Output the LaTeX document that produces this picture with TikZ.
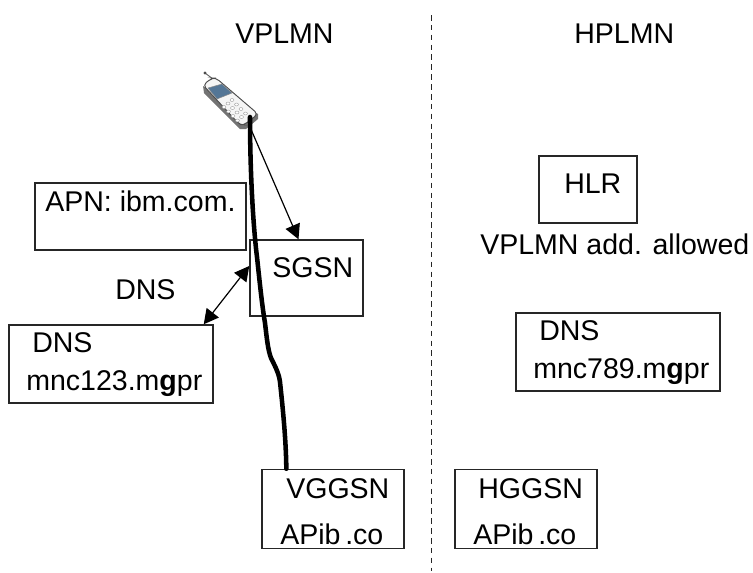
\documentclass[tikz,border=0pt]{standalone}
\usepackage{fontspec}
\setmainfont{Liberation Sans}
\usetikzlibrary{arrows.meta,calc}
\tikzset{
  x=0.75pt,y=-0.75pt,
  box/.style={draw=black!85,line width=1.1pt,rectangle,inner sep=0pt,minimum width=#1},
  lbl/.style={anchor=base west,inner sep=0pt,font=\fontsize{21.4pt}{24pt}\selectfont,text=black},
  link/.style={line width=0.9pt,draw=black},
  tip/.style={-{Triangle[length=11pt,width=11.5pt]}},
  tips/.style={{Triangle[length=11pt,width=11.5pt]}-{Triangle[length=11pt,width=11.5pt]}},
  bearer/.style={line width=3.4pt,draw=black,line cap=round,line join=round}
}
\newcommand{\boxat}[5]{\node[box=#4*0.75pt,minimum height=#5*0.75pt] (#1) at (#2,#3) {};}
\newcommand{\mg}{m\textbf{g}pr}
\begin{document}
\begin{tikzpicture}
\useasboundingbox (0,0) rectangle (753,572);
% boundary
\coordinate (bt) at (431.5,15);
\coordinate (bb) at (431.5,571);
\draw[line width=1.1pt,dash pattern=on 4.2pt off 3.2pt,black!85] (bt) -- (bb);
% boxes
\boxat{apn}{140.5}{216.5}{211}{67}
\boxat{sgsn}{306.5}{278}{113}{76}
\boxat{dnsv}{111}{364}{204}{78}
\boxat{vggsn}{333}{509}{142}{79}
\boxat{hggsn}{526}{509}{142}{79}
\boxat{hlr}{588}{189.5}{98}{67}
\boxat{dnsh}{618}{352}{204}{78}
% labels
\node[lbl] (t1) at (235,43) {VPLMN};
\node[lbl] (t2) at (574,43) {HPLMN};
\node[lbl] (t3) at (45,211) {APN: ibm.com.};
\node[lbl] (t4) at (272,277) {SGSN};
\node[lbl] (t5) at (115,299) {DNS};
\node[lbl] (t6) at (32,352) {DNS};
\node[lbl] (t7) at (26,390) {mnc123.\mg};
\node[lbl] (t8) at (286,498) {VGGSN};
\node[lbl] (t9) at (280,544) {APib\,.co};
\node[lbl] (t10) at (478,498) {HGGSN};
\node[lbl] (t11) at (473,544) {APib\,.co};
\node[lbl] (t12) at (564,193) {HLR};
\node[lbl] (t13) at (480,254) {VPLMN add. allowed};
\node[lbl] (t14) at (539,340) {DNS};
\node[lbl] (t15) at (533,378) {mnc789.\mg};
% phone
\draw[line width=0.7pt,black!60] (205,73) -- (213,79);
\fill[black!70] (205,73) circle (1.6);
\fill[black!55] (203,86) -- (204,93) -- (240,129) -- (246,129) -- (258,119) -- (258,114) -- cycle;
\draw[line width=0.7pt,black!70,fill=black!4,rounded corners=3pt] (203,85) -- (212,78) -- (216,78) -- (258,114) -- (244,125) -- (240,125) -- cycle;
\fill[fill={rgb,255:red,84;green,118;blue,150},draw=black!45,line width=0.4pt] (208,88) -- (222,84) -- (232,93) -- (217,99) -- cycle;
\foreach \i in {0,1,2}{\foreach \j in {0,1,2,3}{
  \fill[white,draw=black!40,line width=0.3pt] ($(232,100)+\i*(-4,3.5)+\j*(4.5,4.5)$) ellipse (2 and 1.5);
}}
\coordinate (phone) at (250,127);
% connectors
\draw[link,tip] (phone) -- ([xshift=-6pt]sgsn.north);
\draw[link,tips] ([xshift=-7.5pt]dnsv.north east) -- ([yshift=9pt]sgsn.west);
\draw[bearer] (phone) ++(0,-10) .. controls (250,170) and (253,225) .. (257,257)
  .. controls (260,285) and (262,305) .. (265,323)
  .. controls (267,340) and (268,350) .. (271,358)
  .. controls (276,368) and (279,374) .. (280,382)
  .. controls (283,410) and (286,440) .. ([xshift=-35pt]vggsn.north);
\end{tikzpicture}
\end{document}
